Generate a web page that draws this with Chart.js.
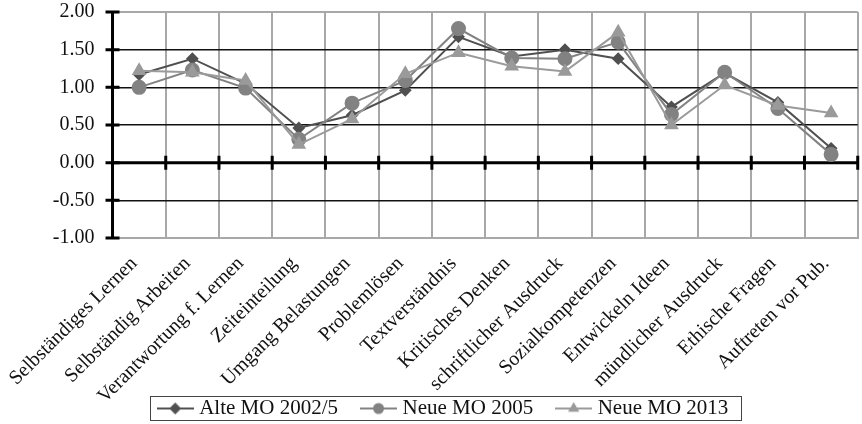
<!DOCTYPE html>
<html>
<head>
<meta charset="utf-8">
<script src="https://cdn.jsdelivr.net/npm/chart.js@4"></script>
<style>
  html, body { margin: 0; padding: 0; background: #fff; }
  #wrap { width: 862px; height: 424px; }
</style>
</head>
<body>
<div id="wrap"><canvas id="chart"></canvas></div>
<script>
const categories = ["Selbständiges Lernen", "Selbständig Arbeiten", "Verantwortung f. Lernen", "Zeiteinteilung",
    "Umgang Belastungen", "Problemlösen", "Textverständnis", "Kritisches Denken", "schriftlicher Ausdruck",
    "Sozialkompetenzen", "Entwickeln Ideen", "mündlicher Ausdruck", "Ethische Fragen", "Auftreten vor Pub."];
const alteMO = [1.17, 1.38, 1.05, 0.46, 0.63, 0.96, 1.67, 1.41, 1.50, 1.38, 0.74, 1.19, 0.80, 0.19];
const neueMO2005 = [1.00, 1.23, 0.99, 0.31, 0.79, 1.09, 1.78, 1.39, 1.38, 1.60, 0.64, 1.20, 0.72, 0.11];
const neueMO2013 = [1.22, 1.20, 1.09, 0.24, 0.58, 1.18, 1.46, 1.28, 1.21, 1.73, 0.50, 1.03, 0.76, 0.66];
const seriesNames = ["Alte MO 2002/5", "Neue MO 2005", "Neue MO 2013"];
const yMin = -1, yMax = 2, yStep = 0.5;

const colors = ["#505050", "#828282", "#9a9a9a"];
const styles = ["rectRot", "circle", "triangle"];
const radii = [5, 6.5, 6.5];
const serif = "'Liberation Serif', 'DejaVu Serif', serif";

// small line+marker icons for the legend
const makeIcon = (i) => {
    const c = document.createElement("canvas");
    c.width = 37; c.height = 14;
    const g = c.getContext("2d");
    g.strokeStyle = colors[i];
    g.fillStyle = colors[i];
    g.lineWidth = 2;
    g.beginPath(); g.moveTo(0, 7); g.lineTo(37, 7); g.stroke();
    Chart.helpers.drawPoint(g, {pointStyle: styles[i], radius: 4.5, borderWidth: 1}, 18.5, 7);
    g.fill();
    return c;
};

const axisDecor = {
    id: "axisDecor",
    beforeDatasetsDraw(chart) {
        const {ctx, scales: {x, y}, chartArea} = chart;
        ctx.save();
        ctx.strokeStyle = "#000";
        ctx.lineWidth = 3;
        // zero line with tick marks at category boundaries
        const y0 = y.getPixelForValue(0);
        ctx.beginPath();
        ctx.moveTo(chartArea.left, y0); ctx.lineTo(chartArea.right, y0);
        for (let i = 0; i < categories.length; i++) {
            const bx = i === categories.length - 1 ? chartArea.right
                : (x.getPixelForValue(i) + x.getPixelForValue(i + 1)) / 2;
            ctx.moveTo(bx, y0 - 7); ctx.lineTo(bx, y0 + 7);
        }
        ctx.stroke();
        // y axis with cross ticks
        ctx.beginPath();
        ctx.moveTo(chartArea.left, chartArea.top); ctx.lineTo(chartArea.left, chartArea.bottom);
        for (let v = yMin; v <= yMax; v += yStep) {
            const py = y.getPixelForValue(v);
            ctx.moveTo(chartArea.left - 7, py); ctx.lineTo(chartArea.left + 7, py);
        }
        ctx.stroke();
        ctx.restore();
    },
    afterDraw(chart) {
        const boxes = chart.legend.legendHitBoxes;
        if (!boxes || !boxes.length) return;
        const left = Math.min(...boxes.map(b => b.left)) - 12;
        const right = Math.max(...boxes.map(b => b.left + b.width)) + 12;
        const top = boxes[0].top - 2;
        const bottom = top + 24;
        const ctx = chart.ctx;
        ctx.save();
        ctx.strokeStyle = "#444";
        ctx.lineWidth = 1;
        ctx.strokeRect(Math.round(left) + 0.5, Math.round(top) + 0.5, Math.round(right - left), Math.round(bottom - top));
        ctx.restore();
    }
};

const ctx = document.getElementById("chart");
new Chart(ctx, {
    type: "line",
    data: {
        labels: categories,
        datasets: [alteMO, neueMO2005, neueMO2013].map((d, i) => ({
            label: seriesNames[i],
            data: d,
            borderColor: colors[i],
            backgroundColor: colors[i],
            pointBackgroundColor: colors[i],
            pointBorderColor: colors[i],
            pointStyle: styles[i],
            pointRadius: radii[i],
            borderWidth: 2,
            tension: 0,
        })).reverse(),
    },
    options: {
        responsive: true,
        maintainAspectRatio: false,
        animation: false,
        layout: {autoPadding: false, padding: {left: 28, right: 0, top: 12, bottom: -5}},
        scales: {
            x: {
                offset: true,
                grid: {offset: true, color: "#a8a8a8", lineWidth: 2, drawTicks: false},
                border: {color: "#a8a8a8", width: 2},
                ticks: {
                    minRotation: 45, maxRotation: 45, autoSkip: false, padding: 14, labelOffset: -5,
                    color: "#111", font: {family: serif, size: 20},
                },
                afterFit: (s) => {
                    // labels may run down beside the legend box, as in the original
                    s.height = 133;
                    s._computeLabelArea = () => undefined;
                },
            },
            y: {
                min: yMin, max: yMax,
                grid: {
                    tickLength: 18,
                    tickColor: "rgba(0,0,0,0)",
                    color: (c) => c.tick && (c.tick.value === yMax || c.tick.value === yMin) ? "#a8a8a8" : "#111",
                    lineWidth: (c) => c.tick && (c.tick.value === yMax || c.tick.value === yMin) ? 2 : 1.6,
                },
                border: {display: false},
                ticks: {
                    stepSize: yStep, padding: 0, color: "#111",
                    font: {family: serif, size: 20},
                    callback: (v) => v.toFixed(2),
                },
                afterFit: (s) => { s.width = 82; },
            },
        },
        plugins: {
            legend: {
                position: "bottom",
                reverse: true,
                labels: {
                    usePointStyle: true,
                    pointStyleWidth: 27,
                    padding: 27,
                    color: "#111",
                    font: {family: serif, size: 21},
                    generateLabels(chart) {
                        const items = Chart.defaults.plugins.legend.labels.generateLabels(chart);
                        items.forEach(it => { it.pointStyle = makeIcon(seriesNames.indexOf(it.text)); });
                        return items;
                    },
                },
            },
            tooltip: {enabled: false},
        },
    },
    plugins: [axisDecor],
});
</script>
</body>
</html>
